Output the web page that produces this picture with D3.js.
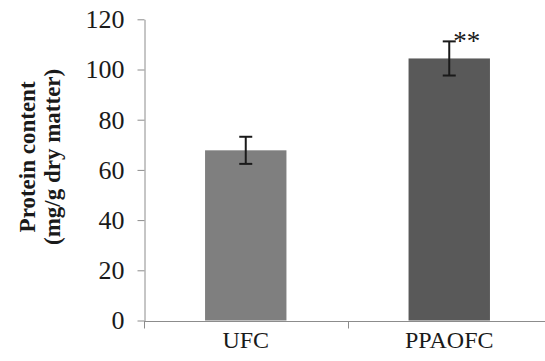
<!DOCTYPE html>
<html>
<head>
<meta charset="utf-8">
<script src="https://cdn.jsdelivr.net/npm/d3@7"></script>
<style>
  html, body { margin: 0; padding: 0; background: #fff; }
  svg { display: block; }
</style>
</head>
<body>
<svg id="chart" width="545" height="361"></svg>
<script>
// ---- data ----
const categories = ["UFC", "PPAOFC"];
const proteinValues = [67.8, 104.4];
const proteinErrors = [5.4, 6.8];
const significance = ["", "**"];
const yTickValues = [0, 20, 40, 60, 80, 100, 120];
const yTitleLines = ["Protein content", "(mg/g dry matter)"];

// ---- layout ----
const svg = d3.select("#chart");
const plotLeft = 144, plotRight = 551, plotTop = 19.3, plotBottom = 320.5;
const serif = "'Liberation Serif', 'Times New Roman', serif";

const y = d3.scaleLinear().domain([0, 120]).range([plotBottom, plotTop]);
const x = d3.scaleBand().domain(categories).range([plotLeft, plotRight]).padding(0);
const barWidth = x.bandwidth() * 0.4;
const colors = ["#7f7f7f", "#595959"];

// bars
svg.append("g").selectAll("rect")
  .data(categories)
  .join("rect")
  .attr("x", (d) => x(d) + x.bandwidth() / 2 - barWidth / 2)
  .attr("y", (d, i) => y(proteinValues[i]))
  .attr("width", barWidth)
  .attr("height", (d, i) => y(0) - y(proteinValues[i]))
  .attr("fill", (d, i) => colors[i]);

// y axis
const yAxis = svg.append("g")
  .attr("transform", `translate(${plotLeft + 0.5},0)`)
  .call(d3.axisLeft(y).tickValues(yTickValues).tickSize(7).tickPadding(13).tickSizeOuter(0));
yAxis.select(".domain").attr("stroke", "#8c8c8c");
yAxis.selectAll(".tick line").attr("stroke", "#8c8c8c");
yAxis.selectAll(".tick text")
  .attr("font-family", serif)
  .attr("font-size", 26)
  .attr("fill", "#1a1a1a");

// x axis baseline and boundary ticks
const xAxisG = svg.append("g").attr("transform", `translate(0,${Math.round(y(0)) + 0.5})`);
xAxisG.append("line")
  .attr("x1", plotLeft).attr("x2", 545)
  .attr("stroke", "#8c8c8c");
const boundaries = categories.map((d) => x(d)).concat([x.range()[1]]);
xAxisG.selectAll("line.tick")
  .data(boundaries)
  .join("line")
  .attr("class", "tick")
  .attr("x1", (d) => Math.round(d) + 0.5)
  .attr("x2", (d) => Math.round(d) + 0.5)
  .attr("y1", 0).attr("y2", 7)
  .attr("stroke", "#8c8c8c");

// category labels
svg.append("g").selectAll("text")
  .data(categories)
  .join("text")
  .attr("x", (d) => x(d) + x.bandwidth() / 2)
  .attr("y", 348)
  .attr("text-anchor", "middle")
  .attr("font-family", serif)
  .attr("font-size", 24)
  .attr("fill", "#1a1a1a")
  .text((d) => d);

// error bars
const capHalf = 6.5;
const eb = svg.append("g").attr("stroke", "#1a1a1a").attr("stroke-width", 2);
categories.forEach((c, i) => {
  const cx = x(c) + x.bandwidth() / 2;
  const yHi = y(proteinValues[i] + proteinErrors[i]);
  const yLo = y(proteinValues[i] - proteinErrors[i]);
  eb.append("line").attr("x1", cx).attr("x2", cx).attr("y1", yHi).attr("y2", yLo);
  eb.append("line").attr("x1", cx - capHalf).attr("x2", cx + capHalf).attr("y1", yHi).attr("y2", yHi);
  eb.append("line").attr("x1", cx - capHalf).attr("x2", cx + capHalf).attr("y1", yLo).attr("y2", yLo);
});

// significance marks
svg.append("g").selectAll("text")
  .data(categories)
  .join("text")
  .attr("x", (d) => x(d) + x.bandwidth() / 2 + 4)
  .attr("y", (d, i) => y(proteinValues[i] + proteinErrors[i]) + 9)
  .attr("font-family", serif)
  .attr("font-size", 27)
  .attr("fill", "#1a1a1a")
  .text((d, i) => significance[i]);

// y title
const titleG = svg.append("g")
  .attr("transform", `translate(0,${(y(0) + y(120)) / 2 - 13}) rotate(-90)`);
titleG.selectAll("text")
  .data(yTitleLines)
  .join("text")
  .attr("x", 0)
  .attr("y", (d, i) => 35 + i * 25)
  .attr("text-anchor", "middle")
  .attr("font-family", serif)
  .attr("font-weight", "bold")
  .attr("font-size", 23)
  .attr("fill", "#1a1a1a")
  .text((d) => d);
</script>
</body>
</html>
